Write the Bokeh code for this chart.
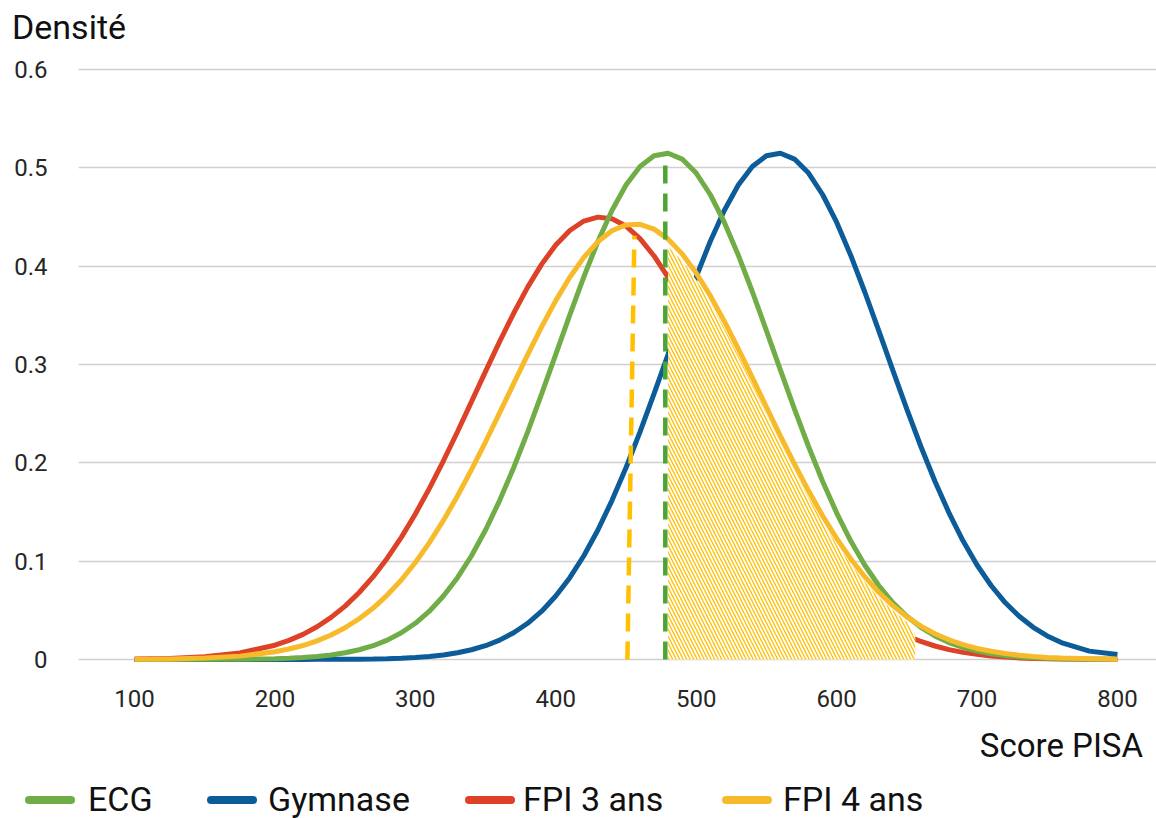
from bokeh.plotting import figure
from bokeh.layouts import column
from bokeh.models import FixedTicker, Range1d, Div
from bokeh.embed import file_html
from bokeh.resources import INLINE

# ---------------- data ----------------
score = [100, 125, 150, 175,
         200, 210, 220, 230, 240, 250, 260, 270, 280, 290,
         300, 310, 320, 330, 340, 350, 360, 370, 380, 390,
         400, 410, 420, 430, 440, 450, 460, 470, 480, 490,
         500, 510, 520, 530, 540, 550, 560, 570, 580, 590,
         600, 610, 620, 630, 640, 650, 660, 670, 680, 690,
         700, 710, 720, 730, 740, 750, 760, 780, 800]

ecg = [0.0000, 0.0000, 0.0001, 0.0002,
       0.0008, 0.0013, 0.0020, 0.0031, 0.0046, 0.0068, 0.0099, 0.0140, 0.0197, 0.0272,
       0.0368, 0.0491, 0.0645, 0.0832, 0.1055, 0.1317, 0.1616, 0.1950, 0.2315, 0.2703,
       0.3103, 0.3505, 0.3892, 0.4251, 0.4567, 0.4825, 0.5013, 0.5123, 0.5148, 0.5089,
       0.4947, 0.4729, 0.4447, 0.4112, 0.3740, 0.3345, 0.2943, 0.2546, 0.2166, 0.1813,
       0.1492, 0.1207, 0.0961, 0.0752, 0.0579, 0.0439, 0.0327, 0.0239, 0.0172, 0.0122,
       0.0085, 0.0058, 0.0039, 0.0026, 0.0017, 0.0011, 0.0007, 0.0003, 0.0001]

gymnase = [0.0000, 0.0000, 0.0000, 0.0000,
           0.0000, 0.0000, 0.0000, 0.0001, 0.0001, 0.0002, 0.0003, 0.0005, 0.0008, 0.0013,
           0.0020, 0.0031, 0.0046, 0.0068, 0.0099, 0.0140, 0.0197, 0.0272, 0.0368, 0.0491,
           0.0645, 0.0832, 0.1055, 0.1317, 0.1616, 0.1950, 0.2315, 0.2703, 0.3103, 0.3505,
           0.3892, 0.4251, 0.4567, 0.4825, 0.5013, 0.5123, 0.5148, 0.5089, 0.4947, 0.4729,
           0.4447, 0.4112, 0.3740, 0.3345, 0.2943, 0.2546, 0.2166, 0.1813, 0.1492, 0.1207,
           0.0961, 0.0752, 0.0579, 0.0439, 0.0327, 0.0239, 0.0172, 0.0085, 0.0050]

fpi3 = [0.0004, 0.0011, 0.0028, 0.0066,
        0.0145, 0.0194, 0.0255, 0.0333, 0.0428, 0.0543, 0.0681, 0.0842, 0.1030, 0.1242,
        0.1480, 0.1740, 0.2021, 0.2316, 0.2622, 0.2930, 0.3232, 0.3521, 0.3787, 0.4021,
        0.4215, 0.4363, 0.4459, 0.4499, 0.4482, 0.4408, 0.4280, 0.4104, 0.3885, 0.3630,
        0.3350, 0.3052, 0.2744, 0.2438, 0.2137, 0.1850, 0.1581, 0.1334, 0.1112, 0.0914,
        0.0743, 0.0595, 0.0471, 0.0368, 0.0300, 0.0240, 0.0183, 0.0137, 0.0100, 0.0072,
        0.0052, 0.0036, 0.0025, 0.0016, 0.0011, 0.0007, 0.0005, 0.0002, 0.0001]

fpi4 = [0.0002, 0.0005, 0.0014, 0.0034,
        0.0078, 0.0106, 0.0142, 0.0189, 0.0249, 0.0323, 0.0414, 0.0523, 0.0655, 0.0808,
        0.0986, 0.1189, 0.1414, 0.1663, 0.1931, 0.2214, 0.2508, 0.2806, 0.3101, 0.3385,
        0.3650, 0.3888, 0.4089, 0.4249, 0.4360, 0.4420, 0.4426, 0.4377, 0.4275, 0.4125,
        0.3931, 0.3700, 0.3440, 0.3159, 0.2866, 0.2568, 0.2272, 0.1986, 0.1715, 0.1462,
        0.1232, 0.1025, 0.0842, 0.0684, 0.0548, 0.0434, 0.0339, 0.0262, 0.0200, 0.0151,
        0.0112, 0.0083, 0.0060, 0.0043, 0.0030, 0.0021, 0.0015, 0.0007, 0.0003]

# shaded (hatched) area under FPI 4 ans
hatch_x = [480, 490, 500, 510, 520, 530, 540, 550, 560, 570,
           580, 590, 600, 610, 620, 630, 640, 650, 656]
hatch_top = [0.420, 0.405, 0.386, 0.363, 0.337, 0.309, 0.280, 0.250, 0.221, 0.192,
             0.165, 0.140, 0.117, 0.097, 0.079, 0.063, 0.050, 0.038, 0.026]

# dashed reference lines (means)
fpi4_mean_x = [451, 456]
fpi4_mean_y = [0.0, 0.431]
ecg_mean_x = [478, 478]
ecg_mean_y = [0.0, 0.513]

series_names = ["ECG", "Gymnase", "FPI 3 ans", "FPI 4 ans"]
x_ticks = [100, 200, 300, 400, 500, 600, 700, 800]
y_ticks = [0, 0.1, 0.2, 0.3, 0.4, 0.5, 0.6]
y_tick_labels = ["0", "0.1", "0.2", "0.3", "0.4", "0.5", "0.6"]
y_title = "Densité"
x_title = "Score PISA"

# ---------------- styles ----------------
C_GREEN = "#70AD47"
C_BLUE = "#0B5C99"
C_RED = "#DD4127"
C_YELLOW = "#F7BA2A"
C_YELLOW_DASH = "#FFC000"
C_GREEN_DASH = "#4CA432"
FONT = "Roboto"
TXT = "#111111"
series_colors = [C_GREEN, C_BLUE, C_RED, C_YELLOW]

W = 1156
TOP_H = 47
MAIN_H = 671
BOT_H = 100

# ---------------- title strip (top) ----------------
top_html = (
    f'<div style="position:relative;width:{W}px;height:{TOP_H}px;overflow:hidden;">'
    f'<span style="position:absolute;left:12px;top:10px;font-family:{FONT};font-size:34px;'
    f'line-height:34px;color:{TXT};white-space:nowrap;">{y_title}</span></div>'
)
top_div = Div(text=top_html, width=W, height=TOP_H, margin=(0, 0, 0, 0))

# ---------------- main chart ----------------
p = figure(width=W, height=MAIN_H, output_backend="svg", toolbar_location=None,
           x_range=Range1d(60.12, 827.8), y_range=Range1d(-0.0102, 0.6102),
           min_border_left=78, min_border_right=0, min_border_top=12, min_border_bottom=49)
p.margin = (0, 0, 0, 0)
p.outline_line_color = None
p.background_fill_color = "white"
p.border_fill_color = "white"

p.xgrid.grid_line_color = None
p.yaxis.ticker = FixedTicker(ticks=y_ticks)
p.xaxis.ticker = FixedTicker(ticks=x_ticks)
p.ygrid.grid_line_color = "#D0D0D0"
p.ygrid.grid_line_width = 1.6
p.yaxis.major_label_overrides = {t: l for t, l in zip(y_ticks, y_tick_labels)}

for ax in (p.xaxis, p.yaxis):
    ax.axis_line_color = None
    ax.major_tick_line_color = None
    ax.minor_tick_line_color = None
    ax.major_tick_out = 0
    ax.major_tick_in = 0
    ax.major_label_text_font = FONT
    ax.major_label_text_font_size = "24px"
    ax.major_label_text_color = "#262626"
p.yaxis.major_label_standoff = 31
p.xaxis.major_label_standoff = 20

p.line(score, fpi3, line_color=C_RED, line_width=5)
p.line(score, gymnase, line_color=C_BLUE, line_width=5)
p.line(score, ecg, line_color=C_GREEN, line_width=5)
p.varea(x=hatch_x, y1=[0] * len(hatch_x), y2=hatch_top, fill_color="white", fill_alpha=1.0,
        hatch_pattern="\\", hatch_color=C_YELLOW_DASH, hatch_scale=7, hatch_weight=1.3)
p.line(score, fpi4, line_color=C_YELLOW, line_width=5)
p.line(fpi4_mean_x, fpi4_mean_y, line_color=C_YELLOW_DASH, line_width=4.5, line_dash="18 10")
p.line(ecg_mean_x, ecg_mean_y, line_color=C_GREEN_DASH, line_width=4.5, line_dash="18 10")

# ---------------- x title + legend strip (bottom) ----------------
sym_left = [25, 207, 465, 722]
lab_left = [88, 268, 523, 783]
items = ""
for name, col, sl, ll in zip(series_names, series_colors, sym_left, lab_left):
    items += (f'<span style="position:absolute;left:{sl}px;top:78px;width:50px;height:8px;'
              f'border-radius:4px;background:{col};"></span>'
              f'<span style="position:absolute;left:{ll}px;top:64px;font-family:{FONT};'
              f'font-size:34px;line-height:34px;color:{TXT};white-space:nowrap;">{name}</span>')
bot_html = (
    f'<div style="position:relative;width:{W}px;height:{BOT_H}px;overflow:hidden;">'
    f'<span style="position:absolute;right:13px;top:11px;font-family:{FONT};font-size:33px;'
    f'line-height:33px;color:{TXT};white-space:nowrap;">{x_title}</span>'
    + items + '</div>'
)
bot_div = Div(text=bot_html, width=W, height=BOT_H, margin=(0, 0, 0, 0))

layout = column(top_div, p, bot_div, spacing=0)
open("out.html", "w").write(file_html(layout, INLINE))
